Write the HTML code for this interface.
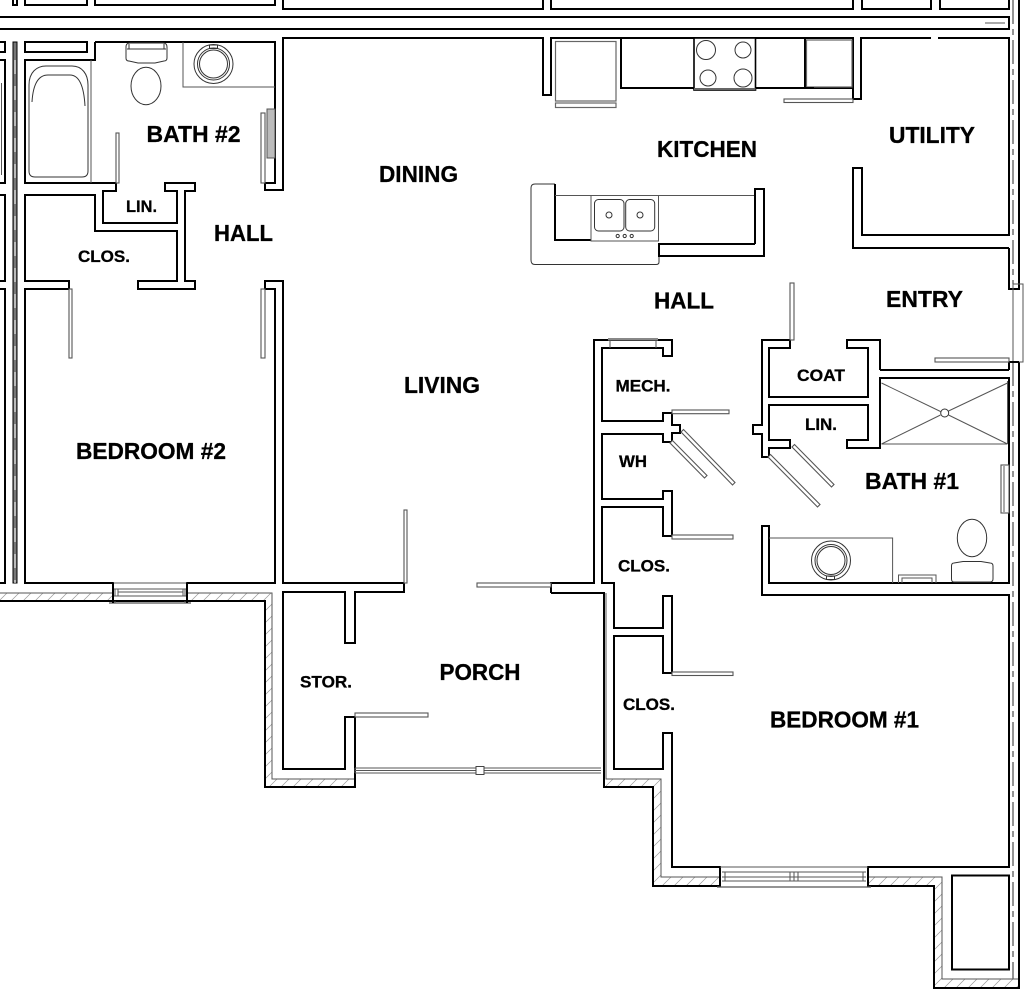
<!DOCTYPE html>
<html><head><meta charset="utf-8"><style>
html,body{margin:0;padding:0;background:#fff}
svg{display:block}
text{font-family:"Liberation Sans",Arial,sans-serif;font-weight:700;fill:#000;stroke:#000;stroke-width:.3}
.w{fill:none;stroke:#000;stroke-width:2;stroke-linejoin:miter}
.g{fill:none;stroke:#555;stroke-width:1}
.d{fill:#fff;stroke:#555;stroke-width:1.1}
.f{fill:none;stroke:#333;stroke-width:1}
.b{font-size:22.7px}.s{font-size:17px}
</style></head><body>
<svg width="1024" height="989" viewBox="0 0 1024 989" xmlns="http://www.w3.org/2000/svg">
<defs><pattern id="h" width="12" height="12" patternUnits="userSpaceOnUse"><path d="M-1 13L13 -1M-3 3L3 -3M9 15L15 9" stroke="#999" stroke-width=".7"/></pattern></defs>
<rect width="1024" height="989" fill="#fff"/>

<!-- hatching -->
<path fill="url(#h)" d="M0 593H113V601H0ZM187 593H272V779H355V787H265V601H187ZM606 779H661V877H720V886H653V787H606ZM868 877H942V979H1018V988H934V886H868Z"/>
<path class="g" stroke-width="1.2" d="M0 593H113M187 593H272V779H355M606 593V779H661V877H720M868 877H942V979H1018"/>

<!-- top strip -->
<path class="w" d="M13 0V5H17V0M25 0V5H87V0M95 0V5H275V0M283 0V9H543V0M551 0V9H853V0M862 0V9H931V0M940 0V9H1009V0"/>
<path class="w" d="M0 17H1009V29H0"/>
<path class="g" d="M985 23H1005"/>
<!-- right side -->
<path d="M1013 0V284M1013 362V979" stroke="#666" stroke-width="1.4" stroke-dasharray="24 5 6 5" fill="none"/>
<path class="w" d="M1019 0V289H1009V248M1019 362V989"/>
<path class="g" d="M1013 284H1023V362H1013M1013 284V362"/>

<!-- left side -->
<path class="w" d="M0 42H5V52H0M0 60H5V183H0M0 195H5V281H0M0 289H5V583H0"/>
<rect x="13" y="42" width="4" height="541" fill="#777" stroke="#000"/>
<path d="M15 60V583" stroke="#fff" stroke-width="1" stroke-dasharray="14 12"/>
<path class="g" d="M1.5 83V175"/>
<rect class="w" x="25" y="42" width="62" height="10"/>

<!-- west unit walls -->
<path class="w" d="M95 42V60H25V183H116V191H103V223H177V191H165V183H195V191H185V281H195V289H138V281H177V231H95V195H25V281H69V289H25V583H113V601H0M187 601V583H275V289H265V281H283V583H404V592H355V643H345V592H283V769H345V717H355V787H265V601H113M95 42H275V183H265V190H283V38H543V95H551V38H853V99H861V38H931M938 38H1009V235H862V168H853V248H1009"/>
<path class="w" d="M0 601H113"/>
<!-- central walls -->
<path class="w" d="M404 583V592M551 593V583H594V340H672V356H663V348H602V421H663V413H672V425H680V433H672V442H663V434H602V499H663V491H672V536H663V507H602V583H614V628H663V596H672V673H663V636H614V769H663V733H672V867H720V886H653V787H604V593H551"/>
<!-- east walls -->
<path class="w" d="M1009 288V248M1009 362H1019M1009 370V362M880 370H1009M880 370V340H847V348H868V397H769V348H790V340H762V425H753V434H762V457H769V448H790V440H769V405H868V440H847V448H880V378H1009V583H769V526H762V595H1009V867H868V886H934V988H1018"/>
<rect class="w" x="952" y="875.5" width="57" height="94"/>
<path class="w" d="M868 867V886"/>

<!-- doors -->
<g class="d">
<rect x="116" y="133" width="3" height="50"/>
<rect x="261" y="113" width="4" height="70"/>
<rect x="69" y="289" width="3" height="69"/>
<rect x="261" y="289" width="4" height="69"/>
<rect x="404" y="510" width="3" height="73"/>
<rect x="477" y="583" width="74" height="4"/>
<rect x="355" y="713" width="73" height="4"/>
<rect x="672" y="535" width="61" height="4"/>
<rect x="672" y="672" width="61" height="3.5"/>
<rect x="672" y="410" width="57" height="3.7"/>
<rect x="790" y="283" width="4" height="57"/>
<rect x="935" y="358" width="74" height="4"/>
<rect x="784" y="99" width="69" height="3.5"/>
<path d="M670 443L672.5 440.5L707 475.5L704.5 478ZM681 432L683.5 429.5L735 482.5L732.5 485ZM768 457L770.5 454.5L820 504.5L817.5 507ZM792 447L794.5 444.5L834 484.5L831.5 487Z"/>
</g>
<!-- bath 2 window-ish -->
<rect x="267" y="109" width="8" height="49" fill="#bbb" stroke="#555"/>
<!-- bath 1 window-ish -->
<rect x="1001" y="465" width="8" height="48" class="d"/><path class="g" d="M1004 466V512"/>
<!-- mech top -->
<rect x="608" y="338" width="50" height="2.5" fill="#888"/><path class="g" d="M610 340V348M656 340V348"/>

<!-- bedroom 2 window -->
<path class="g" d="M113 583H187M115 589V596M185 589V596M113 589H187M118 589V596M183 589V596M118 596H183M118 592H183M113 596H187"/>
<path d="M109 603H191" stroke="#555" stroke-width="1.2"/>
<path class="g" d="M115 601V603M185 601V603"/>
<path class="w" d="M113 583V603M187 583V603"/>

<!-- bedroom 1 window -->
<path class="g" d="M720 867H868M722 872H866M722 877H866M722 881H866M725 872V881M863 872V881M790 872V881M794 872V881M798 872V881M722 887H866"/>
<path d="M717 887H871" stroke="#555" stroke-width="1.2"/>

<!-- porch slider -->
<path class="g" d="M355 768H601M355 773H601M355 770.5H601" stroke-width="1.1"/>
<rect x="476" y="766.5" width="8" height="8" fill="#fff" stroke="#444"/>
<path class="g" d="M355 768V773"/>

<!-- tub -->
<path class="f" d="M35 177Q29 177 29 171V85C29 72 37 66 46 66H72C82 66 88 74 88 85V171Q88 177 82 177Z"/>
<path class="f" d="M32 102C33 85 38 75 48 75H70C80 75 84 88 85 106"/>
<path class="g" d="M91 60V183"/>
<!-- toilet bath 2 -->
<path class="f" d="M126 47Q126 43 130 43H163Q167 43 167 47V58Q167 61 164 61L155 63H138L129 61Q126 61 126 58Z"/>
<path class="f" d="M127 49H166M129 44V49M164 44V49"/>
<ellipse class="f" cx="146" cy="86" rx="15" ry="18.7"/>
<!-- vanity bath 2 -->
<path class="g" d="M183 42V87H275"/>
<circle class="f" cx="213.5" cy="64" r="19.5"/><circle class="f" cx="213.5" cy="64" r="16"/><circle class="f" cx="213.5" cy="64" r="14"/>
<rect class="f" x="209.5" y="45" width="8" height="3.5"/>

<!-- fridge -->
<rect x="555.5" y="41.5" width="60.5" height="59.5" fill="#fff" stroke="#666" stroke-width="1.2"/>
<rect x="555.5" y="103" width="60.5" height="4.5" fill="#fff" stroke="#666" stroke-width="1.2"/>
<!-- counter -->
<path class="w" d="M621 38V88H853"/>
<rect x="694" y="38" width="61.5" height="52" fill="#fff" stroke="#000" stroke-width="1.6"/>
<circle class="f" cx="706" cy="50" r="9.5"/><circle class="f" cx="743" cy="50" r="8"/><circle class="f" cx="708" cy="78" r="8"/><circle class="f" cx="743" cy="78" r="9"/>
<rect x="694" y="88" width="61.5" height="2" fill="#666"/>
<!-- dishwasher -->
<path class="w" d="M805 38V88"/>
<rect x="806.5" y="40" width="45.5" height="47" fill="#fff" stroke="#666" stroke-width="1.2"/>
<path class="w" d="M805 88H814"/>

<!-- island -->
<path class="f" d="M555 184H535Q531 184 531 188V260Q531 264.5 535 264.5H656Q659 264.5 659 262V245"/>
<path class="w" d="M555 184V240H592" stroke-width="1.5"/>
<path class="g" d="M555 195.5H755" stroke-width="1.2"/>
<rect x="591" y="195.5" width="67.5" height="45.5" fill="#fff" stroke="#555"/>
<rect class="f" x="594.5" y="199.5" width="29.5" height="31.5" rx="4"/>
<rect class="f" x="625.7" y="199.5" width="29" height="31.5" rx="4"/>
<circle class="f" cx="609" cy="215" r="3"/><circle class="f" cx="640" cy="215" r="3"/>
<circle class="f" cx="617.7" cy="236" r="1.6"/><circle class="f" cx="624.7" cy="236" r="1.6"/><circle class="f" cx="631.7" cy="236" r="1.6"/>
<path class="w" d="M755 244V189H764V256H659V244H755"/>

<!-- shower -->
<path class="g" d="M881.5 383L940.5 411.5M948.5 415L1007.5 444M881.5 444L940.5 415M948.5 411L1007.5 383M881.5 444H1007.5M1007.5 381V444"/>
<circle cx="944.7" cy="413" r="4" fill="#fff" stroke="#333"/>
<!-- vanity bath 1 -->
<path class="g" d="M769 538H892.6V583"/>
<circle class="f" cx="831" cy="560.5" r="19.5"/><circle class="f" cx="831" cy="560.5" r="16"/><circle class="f" cx="831" cy="560.5" r="14"/>
<rect class="f" x="826.5" y="576" width="8" height="3.5"/>
<!-- towel bar -->
<path class="g" d="M898.5 583V575H936V583M902 583V578H932V583M902 578H932" stroke-width="1.2"/>
<!-- toilet bath 1 -->
<ellipse class="f" cx="972" cy="538" rx="14.7" ry="18.7"/>
<path class="f" d="M951.5 566Q951.5 563 954 563L963 561.5H981L990 563Q993 563 993 566V579Q993 582 990 582H954Q951.5 582 951.5 579Z"/>

<!-- labels -->
<text class="b" x="146.500" y="142" textLength="94" lengthAdjust="spacingAndGlyphs">BATH #2</text>
<text class="b" x="214" y="241" textLength="59" lengthAdjust="spacingAndGlyphs">HALL</text>
<text class="s" x="78" y="262" textLength="52" lengthAdjust="spacingAndGlyphs">CLOS.</text>
<text class="s" x="126" y="212" textLength="31" lengthAdjust="spacingAndGlyphs">LIN.</text>
<text class="b" x="379" y="182" textLength="79" lengthAdjust="spacingAndGlyphs">DINING</text>
<text class="b" x="657" y="157" textLength="100" lengthAdjust="spacingAndGlyphs">KITCHEN</text>
<text class="b" x="889" y="143" textLength="86" lengthAdjust="spacingAndGlyphs">UTILITY</text>
<text class="b" x="654" y="308.500" textLength="60" lengthAdjust="spacingAndGlyphs">HALL</text>
<text class="b" x="886" y="307" textLength="77" lengthAdjust="spacingAndGlyphs">ENTRY</text>
<text class="b" x="404" y="393" textLength="76" lengthAdjust="spacingAndGlyphs">LIVING</text>
<text class="b" x="76" y="459" textLength="150" lengthAdjust="spacingAndGlyphs">BEDROOM #2</text>
<text class="s" x="797" y="381" textLength="48" lengthAdjust="spacingAndGlyphs">COAT</text>
<text class="s" x="615.500" y="391.500" textLength="55" lengthAdjust="spacingAndGlyphs">MECH.</text>
<text class="s" x="805" y="430" textLength="32" lengthAdjust="spacingAndGlyphs">LIN.</text>
<text class="s" x="619" y="467" textLength="28" lengthAdjust="spacingAndGlyphs">WH</text>
<text class="b" x="865" y="489" textLength="94" lengthAdjust="spacingAndGlyphs">BATH #1</text>
<text class="s" x="618" y="571.500" textLength="52" lengthAdjust="spacingAndGlyphs">CLOS.</text>
<text class="s" x="623" y="710" textLength="52" lengthAdjust="spacingAndGlyphs">CLOS.</text>
<text class="s" x="300" y="687.500" textLength="52" lengthAdjust="spacingAndGlyphs">STOR.</text>
<text class="b" x="439.500" y="680" textLength="81" lengthAdjust="spacingAndGlyphs">PORCH</text>
<text class="b" x="770" y="727.500" textLength="149" lengthAdjust="spacingAndGlyphs">BEDROOM #1</text>
</svg>
</body></html>
